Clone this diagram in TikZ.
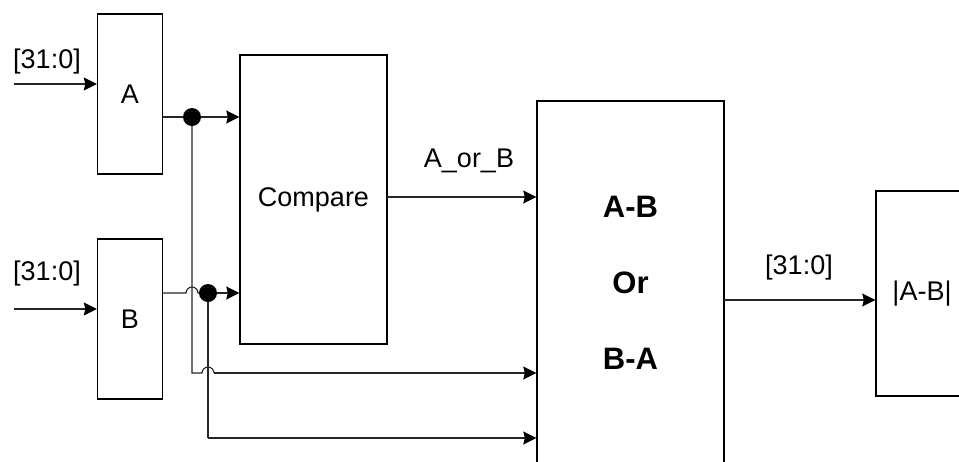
\documentclass[tikz,border=0pt]{standalone}
\usepackage{fontspec}
\setmainfont{Liberation Sans}
\usetikzlibrary{arrows.meta}
\begin{document}
\begin{tikzpicture}[x=1pt,y=-1pt,
  blk/.style={draw, line width=1.4pt, fill=white, inner sep=0pt, anchor=center},
  wire/.style={line width=1.1pt, draw=black!85},
  arr/.style={wire, -{Stealth[length=13pt,width=13pt,inset=1.5pt,color=black]}},
  lbl/.style={inner sep=0pt, font=\fontsize{27}{32}\selectfont},
  blab/.style={inner sep=0pt, font=\fontsize{27}{32}\selectfont},
  bold/.style={inner sep=0pt, font=\fontsize{31}{36}\selectfont\bfseries},
  dot/.style={circle, fill=black, inner sep=0pt, minimum size=18pt}]
\useasboundingbox (0,0) rectangle (959,461);
\clip (0,0) rectangle (959,461);
% boxes
\node[blk, minimum width=65pt, minimum height=160pt] (A) at (130,94) {};
\node[blab] (Atxt) at (130,94) {A};
\node[blk, minimum width=65pt, minimum height=160pt] (B) at (130,319) {};
\node[blab] (Btxt) at (130,319) {B};
\node[blk, minimum width=147pt, minimum height=289pt] (C) at (313.5,199.5) {};
\node[blab] (Ctxt) at (313.5,199.5) {Compare};
\node[blk, minimum width=187pt, minimum height=364pt] (S) at (630.5,283) {};
\node[bold] (t1) at (630.5,207) {A-B};
\node[bold] (t2) at (630.5,283) {Or};
\node[bold] (t3) at (630.5,359) {B-A};
\node[blk, minimum width=92pt, minimum height=205pt] (O) at (922,293.5) {};
\node[blab] (Otxt) at (922,293.5) {|A-B|};
% coordinates
\coordinate (inA) at (14,84);
\coordinate (inB) at (14,309);
\coordinate (dA) at (192,117);
\coordinate (dB) at (208,293);
\coordinate (cA) at (192,373);
\coordinate (cB) at (208,438);
% inputs
\draw[arr] (inA) -- (inA -| A.west);
\draw[arr] (inB) -- (inB -| B.west);
\node[lbl] (lA) at (47,62) {[31:0]};
\node[lbl] (lB) at (47,274) {[31:0]};
% A output
\draw[wire] (dA -| A.east) -- (dA);
\draw[arr] (dA) -- (dA -| C.west);
\draw[wire] (dA) -- (cA) -- (202,373) arc[start angle=180, end angle=360, radius=6] -- (214,373);
\draw[arr] (214,373) -- (cA -| S.west);
% B output
\draw[wire] (dB -| B.east) -- (186,293) arc[start angle=180, end angle=360, radius=6] -- (dB);
\draw[arr] (dB) -- (dB -| C.west);
\draw[wire] (dB) -- (cB);
\draw[arr] (cB) -- (cB -| S.west);
\node[dot] (DA) at (dA) {};
\node[dot] (DB) at (dB) {};
% compare output
\coordinate (cmp) at (387,197);
\draw[arr] (cmp) -- (cmp -| S.west);
\node[lbl] (lC) at (469,161) {A\_or\_B};
% result
\coordinate (res) at (724,300);
\draw[arr] (res) -- (res -| O.west);
\node[lbl] (lR) at (799,268) {[31:0]};
\end{tikzpicture}
\end{document}
